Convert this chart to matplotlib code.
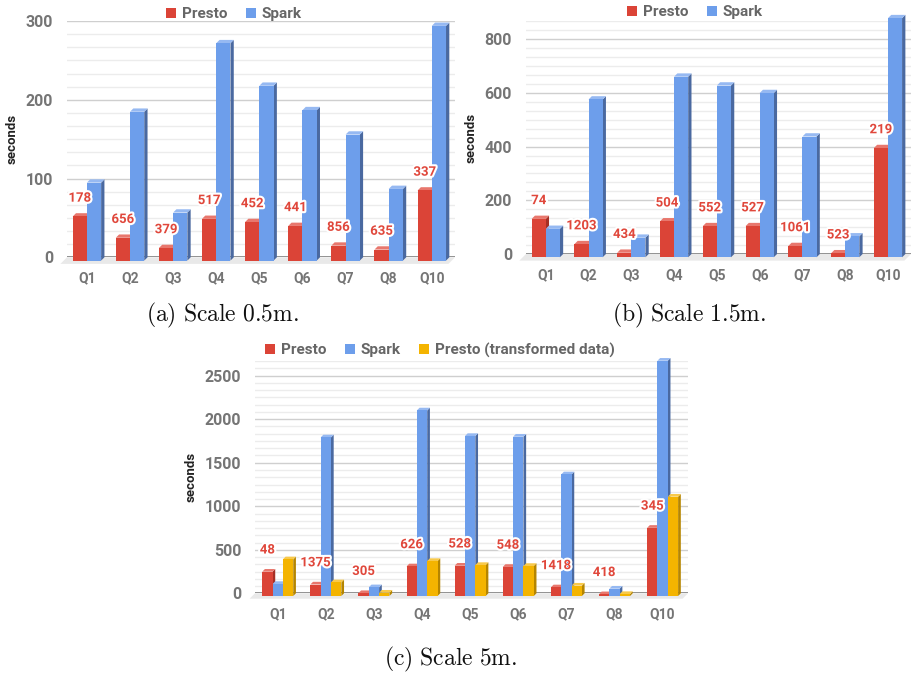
import numpy as np
import matplotlib
matplotlib.use("Agg")
import matplotlib.pyplot as plt
from matplotlib.patches import Polygon, Patch
import matplotlib.patheffects as pe

plt.rcParams['font.family'] = ['Roboto', 'DejaVu Sans']
plt.rcParams['mathtext.fontset'] = 'cm'

queries = ["Q1", "Q2", "Q3", "Q4", "Q5", "Q6", "Q7", "Q8", "Q10"]

# scale 0.5m
presto_a = [56, 29, 16, 53, 49, 44, 19, 14, 89]
spark_a = [99, 189, 61, 276, 222, 191, 160, 91, 298]
labels_a = ["178", "656", "379", "517", "452", "441", "856", "635", "337"]

# scale 1.5m
presto_b = [143, 49, 17, 134, 116, 116, 42, 15, 407]
spark_b = [106, 588, 73, 673, 640, 612, 450, 78, 891]
labels_b = ["74", "1203", "434", "504", "552", "527", "1061", "523", "219"]

# scale 5m
presto_c = [279, 132, 33, 340, 348, 334, 99, 20, 783]
spark_c = [138, 1822, 100, 2132, 1838, 1830, 1397, 84, 2703]
presto_t_c = [421, 157, 38, 402, 356, 345, 119, 22, 1141]
labels_c = ["48", "1375", "305", "626", "528", "548", "1418", "418", "345"]

RED = ("#db4437", "#e8776d", "#a52f25")
BLUE = ("#6d9eeb", "#96b9f2", "#4a69a0")
YEL = ("#f4b400", "#f8c94a", "#b58500")
GRAY = "#757575"

W, H = 912, 675
fig = plt.figure(figsize=(W / 100, H / 100), dpi=100)


def make_axes(left, right, top, zero):
    return fig.add_axes([left / W, 1 - zero / H, (right - left) / W, (zero - top) / H])


def bars3d(ax, xs, vals, width, cols, dxp, dyp, ppx, ppy):
    ddx = dxp / ppx
    ddy = dyp / ppy
    front, topc, side = cols
    for x, v in zip(xs, vals):
        x0 = x - width / 2
        x1 = x + width / 2
        b = -ddy
        t = v - ddy
        ax.add_patch(Polygon([(x1, b), (x1 + ddx, 0), (x1 + ddx, v), (x1, t)],
                             closed=True, fc=side, ec='none', clip_on=False, zorder=3))
        ax.add_patch(Polygon([(x0, t), (x1, t), (x1 + ddx, v), (x0 + ddx, v)],
                             closed=True, fc=topc, ec='none', clip_on=False, zorder=3))
        ax.add_patch(Polygon([(x0, b), (x1, b), (x1, t), (x0, t)],
                             closed=True, fc=front, ec='none', clip_on=False, zorder=4))


def panel(box, ymax, major, series, width, labels, lab_off, legend_xy, depth):
    left, right, top, zero = box
    ax = make_axes(left, right, top, zero)
    n = len(queries)
    ax.set_xlim(-0.5, n - 0.5)
    ax.set_ylim(0, ymax)
    ppx = (right - left) / n
    ppy = (zero - top) / ymax
    ddy = depth / ppy
    # floor
    ax.add_patch(Polygon([(-0.5, 0), (n - 0.5, 0), (n - 0.5 - depth * 2 / ppx, -2 * ddy),
                          (-0.5 - depth * 2 / ppx, -2 * ddy)],
                         closed=True, fc="#e9e9e9", ec='none', clip_on=False, zorder=1))
    ax.axhline(0, color="#8a8a8a", lw=1.3, zorder=2)
    ax.set_yticks(np.arange(0, ymax + 1, major))
    ax.set_yticks(np.arange(0, ymax + 1, major / 6), minor=True)
    ax.grid(True, axis='y', which='major', color="#cfcfcf", lw=1.0, zorder=0)
    ax.grid(True, axis='y', which='minor', color="#ececec", lw=1.0, zorder=0)
    ax.set_axisbelow(True)
    for s in ax.spines.values():
        s.set_visible(False)
    ax.tick_params(axis='both', which='both', length=0)
    ax.tick_params(axis='y', pad=10, labelsize=11.5, labelcolor=GRAY)
    ax.tick_params(axis='x', pad=10, labelsize=10, labelcolor=GRAY)
    ax.set_xticks(np.arange(n) - depth / ppx / 2)
    ax.set_xticklabels(queries, fontweight='bold')
    for t in ax.get_yticklabels():
        t.set_fontweight('bold')
    ax.set_ylabel("seconds", fontsize=9.5, fontweight='bold', color="#222222", labelpad=5)

    k = len(series)
    xs = np.arange(n)
    handles = []
    for j, (name, vals, cols) in enumerate(series):
        offs = (j - (k - 1) / 2) * width - depth / ppx / 2
        bars3d(ax, xs + offs, vals, width, cols, depth, depth, ppx, ppy)
        handles.append(Patch(fc=cols[0], ec='none', label=name))
        if j == 0:
            for x, v, lab in zip(xs + offs, vals, labels):
                ax.annotate(lab, (x, v), xytext=(0, lab_off), textcoords='offset pixels',
                            ha='center', va='center', fontsize=9.5, fontweight='bold',
                            color="#e0473b", zorder=6,
                            path_effects=[pe.withStroke(linewidth=3, foreground='white')])
    fig.legend(handles=handles, loc='center', bbox_to_anchor=(legend_xy[0] / W, 1 - legend_xy[1] / H),
               ncol=k, frameon=False, handlelength=0.65, handleheight=0.65,
               handletextpad=0.4, columnspacing=1.2, prop={'weight': 'bold', 'size': 11},
               labelcolor="#666666")
    return ax


panel((67, 455, 21, 257.3), 300, 100,
      [("Presto", presto_a, RED), ("Spark", spark_a, BLUE)],
      0.33, labels_a, 15, (234, 14), 3.3)
panel((526, 911, 21.4, 254), 866.67, 200,
      [("Presto", presto_b, RED), ("Spark", spark_b, BLUE)],
      0.33, labels_b, 15, (695, 12), 3.3)
panel((255, 688, 361.2, 593.3), 2666.67, 500,
      [("Presto", presto_c, RED), ("Spark", spark_c, BLUE), ("Presto (transformed data)", presto_t_c, YEL)],
      0.215, labels_c, 19, (440, 350), 2.7)

cap_kw = dict(ha='center', va='center', fontsize=17, color='#111111')
fig.text(222 / W, 1 - 315 / H, r"$\mathrm{(a)\ Scale\ 0.5m.}$", **cap_kw)
fig.text(689 / W, 1 - 315 / H, r"$\mathrm{(b)\ Scale\ 1.5m.}$", **cap_kw)
fig.text(451 / W, 1 - 659 / H, r"$\mathrm{(c)\ Scale\ 5m.}$", **cap_kw)

fig.savefig("out.png", dpi=100)
